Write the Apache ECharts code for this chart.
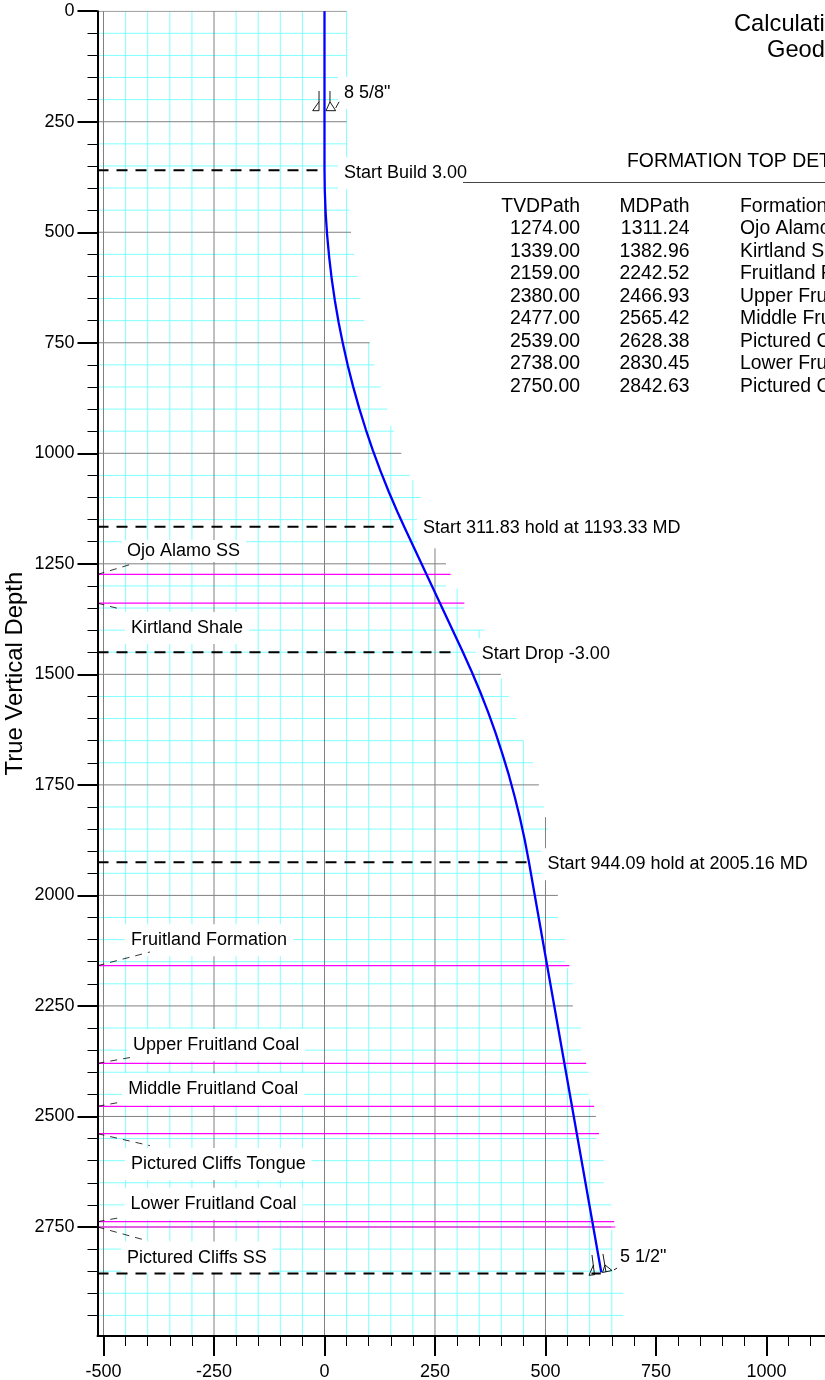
<!DOCTYPE html>
<html><head><meta charset="utf-8">
<style>html,body{margin:0;padding:0;background:#fff;overflow:hidden}#c{width:825px;height:1380px}</style>
<script src="https://cdn.jsdelivr.net/npm/echarts@6/dist/echarts.min.js"></script>
</head><body><div id="c"></div>
<script>
// ---------- data ----------
const xMajorTicks = [-500,-250,0,250,500,750,1000];
const xMinorTicks = [-450,-400,-350,-300,-200,-150,-100,-50,50,100,150,200,300,350,400,450,550,600,650,700,800,850,900,950,1050,1100];
const yMajorTicks = [0,250,500,750,1000,1250,1500,1750,2000,2250,2500,2750];
const yMinorTicks = [50,100,150,200,300,350,400,450,550,600,650,700,800,850,900,950,1050,1100,1150,1200,1300,1350,1400,1450,1550,1600,1650,1700,1800,1850,1900,1950,2050,2100,2150,2200,2300,2350,2400,2450,2550,2600,2650,2700,2800,2850,2900,2950];

// horizontal grid: depth and how far right each line runs
const gridDepths = [0,50,100,150,200,250,300,350,400,450,500,550,600,650,700,750,800,850,900,950,1000,1050,1100,1150,1200,1250,1300,1350,1400,1450,1500,1550,1600,1650,1700,1750,1800,1850,1900,1950,2000,2050,2100,2150,2200,2250,2300,2350,2400,2450,2500,2550,2600,2650,2700,2750,2800,2850,2900,2950];
const gridRightEnds = [50,50,50,50,50,50,50,50,50,56.5,60,67,74,81,90,102,113,127,142,157,174,193,217,240,265,275,275,316,361,380,399,417,434,450,472,485,497,506,515,515,528,528,544,544,562,562,580,580,598,598,614,614,632,632,649,649,668,668,676,676];
// vertical grid: offset and the depth where each line starts
const gridOffsets = [-500,-450,-400,-350,-300,-250,-200,-150,-100,-50,0,50,100,150,200,250,300,350,400,450,500,550,600,650];
const gridTopDepths = [0,0,0,0,0,0,0,0,0,0,0,0,750,938,1061,1215,1306,1400,1509,1650,1823,2165,2461,2757];

// well path
const wellDepth = [0,356,406,456,505.8,555.6,605.3,654.8,704,753,801.9,850.3,898.4,946.2,993.5,1040.4,1086.9,1132.8,1166,1448.4,1494,1540,1586.7,1633.7,1681.4,1729.2,1777.4,1825.9,1874.7,1924,2159,2853];
const wellOffset = [0,0,0.65,2.6,5.9,10.5,16.3,23.5,32,41.8,52.8,65.1,78.6,93.5,109.4,126.8,145.4,165.1,180.3,312.5,333.1,352.4,370.6,387.4,403,417.5,430.5,442.5,453.1,462.4,503.8,626.3];

// formation tops
const tvdPath = ['1274.00','1339.00','2159.00','2380.00','2477.00','2539.00','2738.00','2750.00'];
const mdPath = ['1311.24','1382.96','2242.52','2466.93','2565.42','2628.38','2830.45','2842.63'];
const formationNames = ['Ojo Alamo SS','Kirtland Shale','Fruitland Formation','Upper Fruitland Coal','Middle Fruitland Coal','Pictured Cliffs Tongue','Lower Fruitland Coal','Pictured Cliffs SS'];
const formationEnds = [285,316.5,554,592,610,621,655.5,658];
const formationLabelX = [-458,-451.6,-451.6,-446.6,-457.6,-451.6,-452.6,-460.6];
const formationLabelY = [1221,1395.3,2101.3,2338.3,2438.3,2607.3,2697.3,2819.3];
const leaderEndX = [-431,-463,-395,-436,-463,-395,-463,-405];
const leaderEndY = [1249,1352,2128,2366,2468,2566,2729,2780];

// well plan annotations
const planDepths = [360,1166,1450,1925,2855];
const planEnds = [-5,164,292,461,625];
const planTexts = ['Start Build 3.00','Start 311.83 hold at 1193.33 MD','Start Drop -3.00','Start 944.09 hold at 2005.16 MD'];
const planLabelX = [30.4,209.4,342.4,490.9];
const planLabelY = [366.3,1169.3,1454.3,1929.3];

// casing
const casingTexts = ['8 5/8"','5 1/2"'];
const casingLabelX = [30.4,651.5];
const casingLabelY = [185.3,2818.3];
const casingShapes = [
  [[-12.4,180.5],[-12.4,225],[-26.7,225],[-12.4,204.7]],
  [[12.4,180.5],[12.4,205],[25.3,225],[3.4,225],[12.4,205]],
  [[25.3,219],[33,205]],
  [[605.2,2813.4],[610.9,2858],[598.4,2859.3],[608.6,2836]],
  [[630,2811],[636.9,2852]],
  [[634.6,2836],[650.5,2848.4],[629,2853],[634.6,2836]],
  [[655,2847],[662,2843]]
];

// ---------- layout ----------
const X_MIN = -513.6, X_MAX = 1132.4, Y_MAX = 2996.6;
const FONT = '"Liberation Sans", Arial, sans-serif';
const CYAN = '#80ffff', GRAY = '#808080';
const BREAK = ['-','-'];

const cyanSeg = [], graySeg = [];
gridDepths.forEach((d,i)=>{
  const t = d % 250 === 0 ? graySeg : cyanSeg;
  t.push([X_MIN,d],[gridRightEnds[i],d],BREAK);
});
gridOffsets.forEach((x,i)=>{
  const t = x % 250 === 0 ? graySeg : cyanSeg;
  t.push([x,gridTopDepths[i]],[x,Y_MAX],BREAK);
});
const magentaSeg = [];
tvdPath.forEach((d,i)=>{ magentaSeg.push([X_MIN,+d],[formationEnds[i],+d],BREAK); });
const leaderSeg = [];
tvdPath.forEach((d,i)=>{ leaderSeg.push([X_MIN,+d],[leaderEndX[i],leaderEndY[i]],BREAK); });
const planSeg = [];
planDepths.forEach((d,i)=>{ planSeg.push([X_MIN,d],[planEnds[i],d],BREAK); });
const casingSeg = [];
casingShapes.forEach(s=>{ s.forEach(p=>casingSeg.push(p)); casingSeg.push(BREAK); });

function lineSeries(data,color,width,z,extra){
  return Object.assign({type:'line',data,showSymbol:false,symbol:'none',silent:true,animation:false,
    connectNulls:false,z,clip:true,lineStyle:{color,width,cap:'butt'},emphasis:{disabled:true}},extra||{});
}
function labelSeries(xs,ys,texts,padding,z){
  return {type:'scatter',symbolSize:0,silent:true,animation:false,z,clip:false,itemStyle:{opacity:1},
    data:texts.map((t,i)=>({value:[xs[i],ys[i]],name:t,
      label:{show:true,formatter:t,position:'right',distance:0,color:'#000',fontFamily:FONT,fontSize:18,opacity:1,
        backgroundColor:'#fff',padding:Array.isArray(padding[0])?padding[i]:padding,lineHeight:18}}))};
}

const labelFont = {color:'#000',fontFamily:FONT,fontSize:18};
function baseAxis(extra){ return Object.assign({type:'value',splitLine:{show:false},z:10},extra); }

const textEls = [];
function txt(text,x,y,size,align){
  textEls.push({type:'text',x,y,z:50,silent:true,style:{text,fill:'#000',font:size+'px '+FONT,textAlign:align||'left',textVerticalAlign:'middle'}});
}
txt('Calculation',734,24.5,23.7);
txt('Geodetic',767,50,23.7);
txt('FORMATION TOP DETAILS',627,161.5,19.4);
txt('TVDPath',580,206.5,19.4,'right');
txt('MDPath',689.5,206.5,19.4,'right');
txt('Formation',740,206.5,19.4);
tvdPath.forEach((v,i)=>{
  const y = 229 + i*22.5;
  txt(v,580,y,19.4,'right');
  txt(mdPath[i],689.5,y,19.4,'right');
  txt(formationNames[i],740,y,19.4);
});
textEls.push({type:'line',z:50,silent:true,shape:{x1:463,y1:182.5,x2:825,y2:182.5},style:{stroke:'#444',lineWidth:1}});

const option = {
  animation:false,
  backgroundColor:'#fff',
  grid:{left:97.5,top:11.2,width:727.5,height:1324.8,containLabel:false,outerBoundsMode:'none'},
  xAxis:[
    baseAxis({min:X_MIN,max:X_MAX,position:'bottom',
      axisLine:{show:true,onZero:false,lineStyle:{color:'#000',width:2}},
      axisTick:{show:true,length:20,customValues:xMajorTicks,lineStyle:{color:'#000',width:2}},
      axisLabel:Object.assign({show:true,customValues:xMajorTicks,margin:27,formatter:v=>String(v)},labelFont)}),
    baseAxis({min:X_MIN,max:X_MAX,position:'bottom',
      axisLine:{show:false,onZero:false},
      axisTick:{show:true,length:10,customValues:xMinorTicks,lineStyle:{color:'#000',width:1}},
      axisLabel:{show:false}})
  ],
  yAxis:[
    baseAxis({min:0,max:Y_MAX,inverse:true,position:'left',
      name:'True Vertical Depth',nameLocation:'middle',nameGap:70,nameMoveOverlap:false,
      nameTextStyle:{color:'#000',fontFamily:FONT,fontSize:23.9},
      axisLine:{show:true,onZero:false,lineStyle:{color:'#000',width:2}},
      axisTick:{show:true,length:20,customValues:yMajorTicks,lineStyle:{color:'#000',width:2}},
      axisLabel:Object.assign({show:true,customValues:yMajorTicks,margin:23,padding:[3,0,0,0],formatter:v=>String(v)},labelFont)}),
    baseAxis({min:0,max:Y_MAX,inverse:true,position:'left',
      axisLine:{show:false,onZero:false},
      axisTick:{show:true,length:10,customValues:yMinorTicks,lineStyle:{color:'#000',width:1}},
      axisLabel:{show:false}})
  ],
  series:[
    lineSeries(cyanSeg,CYAN,1,1),
    lineSeries(graySeg,GRAY,1,1.5),
    lineSeries(magentaSeg,'#ff00ff',1.2,2),
    labelSeries(formationLabelX,formationLabelY,formationNames,
      [[1,6,3,5],[7,6,7,6],[7,6,7,6],[7,6,7,6],[7,6,7,6],[7,6,7,6],[7,6,7,6],[7,6,7,6]],3),
    labelSeries(planLabelX,planLabelY,planTexts,[7,6,7,6],3),
    labelSeries(casingLabelX,casingLabelY,casingTexts,[[7,6,7,6],[7,6,7,7.5]],3),
    lineSeries(leaderSeg,'#000',0.8,4,{lineStyle:{color:'#000',width:0.8,type:[7,6],cap:'butt'}}),
    lineSeries(planSeg,'#000',2,4,{lineStyle:{color:'#000',width:2,type:[11,8],cap:'butt'}}),
    lineSeries(wellDepth.map((d,i)=>[wellOffset[i],d]),'#0000ff',2.3,5),
    lineSeries(casingSeg,'#000',0.9,6)
  ],
  graphic:{elements:textEls}
};
const chart = echarts.init(document.getElementById('c'),null,{renderer:'canvas',width:825,height:1380});
chart.setOption(option);
</script></body></html>
